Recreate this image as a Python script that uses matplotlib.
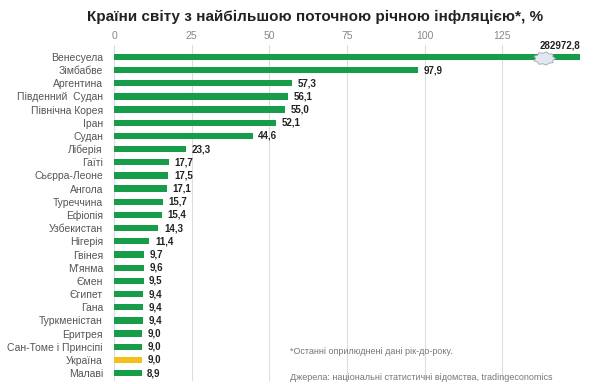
import matplotlib.pyplot as plt
import numpy as np
from matplotlib.path import Path

countries = ["Венесуела", "Зімбабве", "Аргентина", "Південний  Судан", "Північна Корея",
             "Іран", "Судан", "Ліберія", "Гаїті", "Сьєрра-Леоне", "Ангола", "Туреччина",
             "Ефіопія", "Узбекистан", "Нігерія", "Гвінея", "М'янма", "Ємен", "Єгипет",
             "Гана", "Туркменістан", "Еритрея", "Сан-Томе і Принсіпі", "Україна", "Малаві"]
values = [282972.8, 97.9, 57.3, 56.1, 55.0, 52.1, 44.6, 23.3, 17.7, 17.5, 17.1, 15.7,
          15.4, 14.3, 11.4, 9.7, 9.6, 9.5, 9.4, 9.4, 9.4, 9.0, 9.0, 9.0, 8.9]
ticks = [0, 25, 50, 75, 100, 125]
highlight = "Україна"

XMAX = 150
BREAK_AT = 138.5
GREEN = "#179c4a"
YELLOW = "#f4c01e"

plt.rcParams['font.family'] = ['Liberation Sans', 'DejaVu Sans']

fig = plt.figure(figsize=(6.1, 3.84), dpi=100)
ax = fig.add_axes([114/610, 1 - 381/384, (580-114)/610, (381-45)/384])

y = np.arange(len(countries))
plot_vals = [min(v, XMAX) for v in values]
colors = [YELLOW if c == highlight else GREEN for c in countries]
ax.barh(y, plot_vals, height=0.48, color=colors, zorder=3)

for yi, v, pv in zip(y, values, plot_vals):
    lab = f"{v:.1f}".replace(".", ",")
    if v > XMAX:
        ax.text(XMAX, yi - 0.45, lab, ha="right", va="bottom", fontsize=7,
                fontweight="bold", color="#222222", zorder=6)
    else:
        ax.text(pv + 1.8, yi, lab, ha="left", va="center", fontsize=7,
                fontweight="bold", color="#222222", zorder=6)

# break symbol on the capped bar
n = 18
ang = np.linspace(0, 2*np.pi, n + 1)[:-1]
r = np.where(np.arange(n) % 2 == 0, 1.0, 0.8)
verts = list(zip(r*np.cos(ang), r*np.sin(ang)*0.6))
verts.append(verts[0])
codes = [Path.MOVETO] + [Path.LINETO]*(len(verts)-2) + [Path.CLOSEPOLY]
marker = Path(verts, codes)
for yi, v in zip(y, values):
    if v > XMAX:
        ax.plot([BREAK_AT], [yi + 0.1], marker=marker, markersize=16, color="#e3e8f0",
                markeredgecolor="#9aa6b4", markeredgewidth=0.6, zorder=4)

ax.set_xlim(0, XMAX)
ax.set_ylim(len(countries) - 0.4, -0.9)
ax.set_xticks(ticks + [XMAX])
ax.set_xticklabels([str(t) for t in ticks] + [""])
ax.xaxis.tick_top()
ax.tick_params(axis="x", length=0, labelsize=7.5, labelcolor="#888888", pad=3)
ax.set_yticks(y)
ax.set_yticklabels(countries)
ax.tick_params(axis="y", length=0, labelsize=7.5, labelcolor="#555555", pad=8)
ax.grid(axis="x", color="#dddddd", linewidth=0.8, zorder=0)
for s in ax.spines.values():
    s.set_visible(False)

fig.text(315/610, 1 - 17/384, "Країни світу з найбільшою поточною річною інфляцією*, %",
         ha="center", va="center", fontsize=11, fontweight="bold", color="#222222")
fig.text(290/610, 1 - 352/384, "*Останні оприлюднені дані рік-до-року.",
         ha="left", va="center", fontsize=6.5, color="#777777")
fig.text(290/610, 1 - 377/384, "Джерела: національні статистичні відомства, tradingeconomics",
         ha="left", va="center", fontsize=6.5, color="#777777")

fig.savefig("out.png", dpi=100)
